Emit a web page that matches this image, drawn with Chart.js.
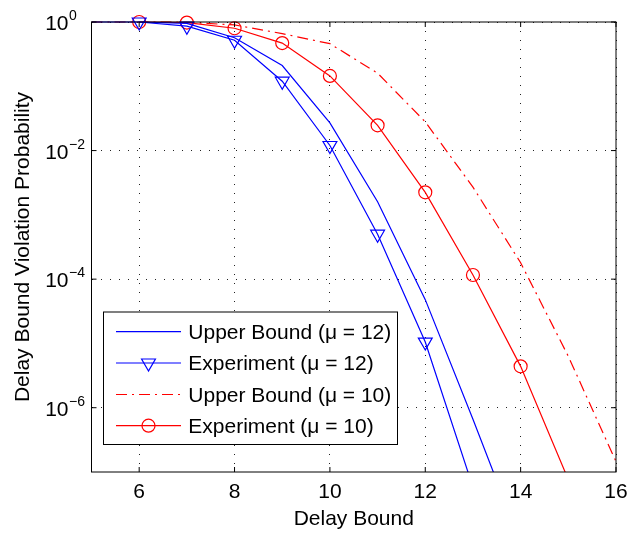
<!DOCTYPE html>
<html>
<head>
<meta charset="utf-8">
<script src="https://cdn.jsdelivr.net/npm/chart.js@4.4.0/dist/chart.umd.min.js"></script>
<style>
html, body { margin: 0; padding: 0; background: #fff; }
</style>
</head>
<body>
<canvas id="myChart" width="633" height="538"></canvas>
<script>
// valores
var xUpper12 = [5, 6, 7, 8, 9, 10, 11, 12, 13, 14];
var upper12 = [1, 1, 0.95, 0.57, 0.21, 0.027, 1.6e-3, 4.8e-5, 6.6e-7, 8e-9];
var xExp12 = [6, 7, 8, 9, 10, 11, 12, 13];
var exp12 = [1, 0.86, 0.52, 0.12, 0.012, 5e-4, 1.05e-5, 5.8e-8];
var xUpper10 = [5, 6, 7, 8, 9, 10, 11, 12, 13, 14, 15, 16];
var upper10 = [1, 1, 0.99, 0.90, 0.66, 0.46, 0.16, 0.028, 2.7e-3, 1.8e-4, 6.3e-6, 1.45e-7];
var xExp10 = [6, 7, 8, 9, 10, 11, 12, 13, 14, 15];
var exp10 = [1, 0.98, 0.8, 0.47, 0.145, 0.0247, 2.24e-3, 1.16e-4, 4.4e-6, 7.6e-8];
var xTicks = [6, 8, 10, 12, 14, 16];
var yTicks = [1e-6, 1e-4, 1e-2, 1];
var legendLabels = ["Upper Bound (\u03bc = 12)", "Experiment (\u03bc = 12)", "Upper Bound (\u03bc = 10)", "Experiment (\u03bc = 10)"];
var xTitle = "Delay Bound";
var yTitle = "Delay Bound Violation Probability";

var FONT = '"Liberation Sans", Arial, Helvetica, sans-serif';
var BLUE = "#0000ff";
var RED = "#ff0000";
var DASHDOT = [11, 5, 2, 5];

function pts(xs, ys) {
	return xs.map(function (x, i) { return {x: x, y: ys[i]}; });
}

function drawTriangle(ctx, x, y, r) {
	ctx.beginPath();
	ctx.moveTo(x, y + r);
	ctx.lineTo(x - r * 0.866, y - r / 2);
	ctx.lineTo(x + r * 0.866, y - r / 2);
	ctx.closePath();
	ctx.stroke();
}

var axesPlugin = {
	id: "matlabAxes",
	afterDraw: function (chart) {
		var ctx = chart.ctx;
		var ca = chart.chartArea;
		var xs = chart.scales.x, ys = chart.scales.y;
		ctx.save();
		// caja
		ctx.strokeStyle = "#000";
		ctx.lineWidth = 1;
		ctx.setLineDash([]);
		ctx.strokeRect(ca.left, ca.top, ca.right - ca.left, ca.bottom - ca.top);
		// marcas hacia dentro
		ctx.beginPath();
		xTicks.forEach(function (v) {
			var px = xs.getPixelForValue(v);
			ctx.moveTo(px, ca.bottom); ctx.lineTo(px, ca.bottom - 5);
			ctx.moveTo(px, ca.top); ctx.lineTo(px, ca.top + 5);
		});
		yTicks.forEach(function (v) {
			var py = ys.getPixelForValue(v);
			ctx.moveTo(ca.left, py); ctx.lineTo(ca.left + 5, py);
			ctx.moveTo(ca.right, py); ctx.lineTo(ca.right - 5, py);
		});
		ctx.stroke();

		// etiquetas del eje y con exponente
		ctx.fillStyle = "#000";
		yTicks.forEach(function (v) {
			var py = ys.getPixelForValue(v);
			var e = Math.round(Math.log10(v));
			ctx.font = "21px " + FONT;
			ctx.textAlign = "right";
			ctx.textBaseline = "alphabetic";
			ctx.fillText("10", ca.left - 23, py + 8);
			ctx.font = "14px " + FONT;
			ctx.textAlign = "left";
			ctx.fillText(e < 0 ? "\u2212" + (-e) : String(e), ca.left - 22.5, py - 2);
		});

		// titulos
		ctx.font = "21px " + FONT;
		ctx.textAlign = "center";
		ctx.fillText(xTitle, (ca.left + ca.right) / 2, 525);
		ctx.save();
		ctx.translate(28.5, (ca.top + ca.bottom) / 2);
		ctx.rotate(-Math.PI / 2);
		ctx.fillText(yTitle, 0, 0);
		ctx.restore();

		// leyenda
		var lx = ca.left + 12, ly = ca.top + 290, lw = 294, lh = 132.5;
		ctx.fillStyle = "#fff";
		ctx.fillRect(lx, ly, lw, lh);
		ctx.strokeStyle = "#000";
		ctx.lineWidth = 1;
		ctx.strokeRect(lx, ly, lw, lh);
		var rows = [331.7, 363, 394.5, 425.7];
		chart.data.datasets.forEach(function (ds, i) {
			var y = rows[i];
			ctx.strokeStyle = ds.borderColor;
			ctx.lineWidth = ds.borderWidth;
			ctx.setLineDash(ds.borderDash || []);
			ctx.beginPath();
			ctx.moveTo(116, y); ctx.lineTo(181, y);
			ctx.stroke();
			ctx.setLineDash([]);
			if (ds.pointRadius > 0) {
				if (ds.pointStyle === "triangle") {
					drawTriangle(ctx, 148.5, y, ds.pointRadius);
				} else {
					ctx.beginPath();
					ctx.arc(148.5, y, ds.pointRadius, 0, Math.PI * 2);
					ctx.stroke();
				}
			}
			ctx.fillStyle = "#000";
			ctx.font = "21px " + FONT;
			ctx.textAlign = "left";
			ctx.fillText(ds.label, 188.3, y + 7.4);
		});
		ctx.restore();
	}
};

var clipBox = {left: 0, right: 0, top: 12, bottom: 0};

new Chart("myChart", {
	type: "line",
	data: {
		datasets: [{
			label: legendLabels[0],
			data: pts(xUpper12, upper12),
			borderColor: BLUE,
			borderWidth: 1.2,
			pointRadius: 0,
			clip: clipBox
		}, {
			label: legendLabels[1],
			data: pts(xExp12, exp12),
			borderColor: BLUE,
			borderWidth: 1.2,
			pointStyle: "triangle",
			rotation: 180,
			pointRadius: 8,
			pointBorderColor: BLUE,
			pointBackgroundColor: "rgba(0,0,0,0)",
			pointBorderWidth: 1.2,
			clip: clipBox
		}, {
			label: legendLabels[2],
			data: pts(xUpper10, upper10),
			borderColor: RED,
			borderWidth: 1.2,
			borderDash: DASHDOT,
			pointRadius: 0,
			clip: clipBox
		}, {
			label: legendLabels[3],
			data: pts(xExp10, exp10),
			borderColor: RED,
			borderWidth: 1.2,
			pointStyle: "circle",
			pointRadius: 6.5,
			pointBorderColor: RED,
			pointBackgroundColor: "rgba(0,0,0,0)",
			pointBorderWidth: 1.2,
			clip: clipBox
		}]
	},
	options: {
		responsive: false,
		animation: false,
		layout: {padding: {top: 22, right: 17, left: 0, bottom: 0}},
		elements: {line: {tension: 0}},
		plugins: {
			legend: {display: false},
			tooltip: {enabled: false}
		},
		scales: {
			x: {
				type: "linear",
				min: 5,
				max: 16,
				afterBuildTicks: function (s) { s.ticks = xTicks.map(function (v) { return {value: v}; }); },
				afterFit: function (s) { s.height = 66; s.paddingLeft = 0; s.paddingRight = 0; },
				grid: {color: "#222", lineWidth: 1, drawTicks: false},
				border: {display: false, dash: [1, 8]},
				ticks: {color: "#000", font: {family: FONT, size: 21}, padding: 8, maxRotation: 0, autoSkip: false}
			},
			y: {
				type: "logarithmic",
				min: 1e-7,
				max: 1,
				afterBuildTicks: function (s) { s.ticks = yTicks.map(function (v) { return {value: v}; }); },
				afterFit: function (s) { s.width = 91.5; },
				grid: {color: "#222", lineWidth: 1, drawTicks: false},
				border: {display: false, dash: [1, 8]},
				ticks: {display: false}
			}
		}
	},
	plugins: [axesPlugin]
});
</script>
</body>
</html>
